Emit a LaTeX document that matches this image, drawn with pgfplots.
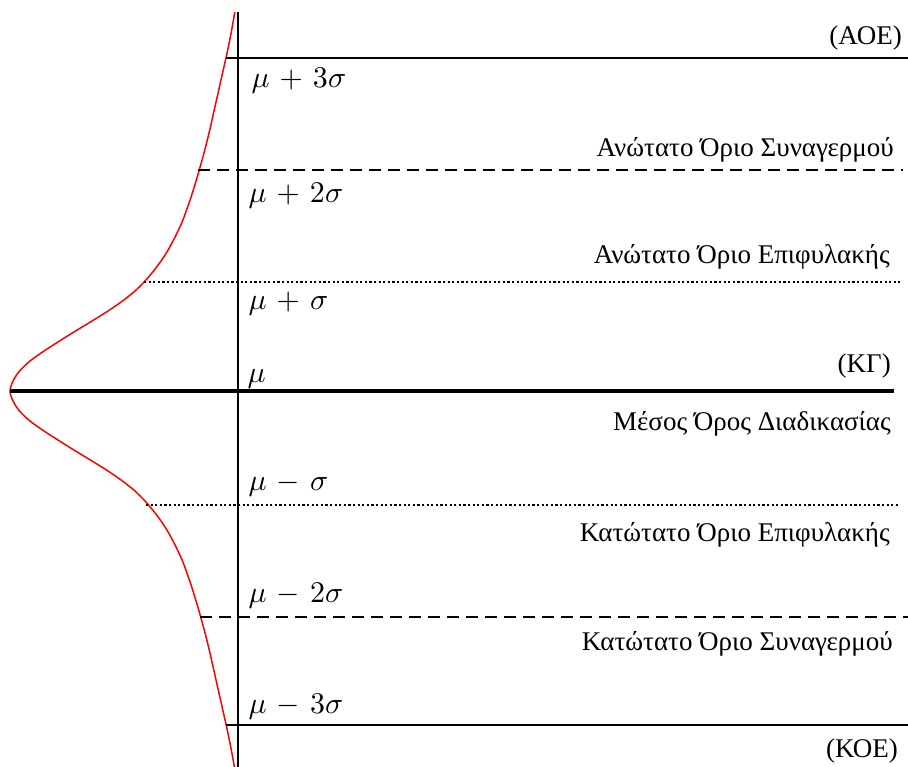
\documentclass[border=0pt]{standalone}
\usepackage{fontspec}
\setmainfont{Liberation Serif}
\usepackage{pgfplots}
\pgfplotsset{compat=1.18}
\begin{document}
\medmuskip=6mu
\begin{tikzpicture}[
  sig/.style={anchor=base west, inner sep=0pt, scale=3.0,
    font=\fontsize{10}{12}\selectfont},
  lim/.style={anchor=base east, inner sep=0pt,
    font=\fontsize{27}{32}\selectfont},
]
\begin{axis}[
  scale only axis, width=908pt, height=767pt,
  xmin=0, xmax=908, ymin=0, ymax=767, y dir=reverse,
  hide axis, clip=false,
]
% normal density turned on its side
\addplot[red, line width=1.5pt, smooth] coordinates {
 (234.8,12) (231.5,31) (227.5,51) (223,71) (218.5,91) (214,111) (209.5,131)
 (204.5,151) (199,171) (193,191) (188,206) (182.5,221) (178,231) (173,241)
 (167.5,251) (161,261) (153.5,271) (145,281) (135,291) (122.5,301) (108,311)
 (92,321) (75.5,331) (59.5,341) (44,351) (30,361) (19.5,371) (13,381) (10,391)
 (13,401) (19.5,411) (30,421) (44,431) (59.5,441) (75.5,451) (92,461) (108,471)
 (122.5,481) (135,491) (145,501) (153.5,511) (161,521) (167.5,531) (173,541)
 (178,551) (182.5,561) (188,576) (193,591) (199,611) (204.5,631) (209.5,651)
 (214,671) (218.5,691) (223,711) (227.5,731) (231.5,751) (234.4,767)
};
% vertical axis
\addplot[black, line width=2pt] coordinates {(238,12) (238,767)};
% upper control limit
\addplot[black, line width=2.3pt] coordinates {(226,58) (908,58)};
% upper warning (alarm) limit
\addplot[black, line width=2.3pt, dash pattern=on 12pt off 7pt] coordinates {(198,170) (903,170)};
% upper surveillance limit
\addplot[black, line width=2.3pt, dash pattern=on 2.2pt off 2.4pt] coordinates {(144,282) (900,282)};
% centre line
\addplot[black, line width=4.5pt] coordinates {(10,391) (894,391)};
% lower surveillance limit
\addplot[black, line width=2.3pt, dash pattern=on 2.2pt off 2.4pt] coordinates {(146,505) (900,505)};
% lower warning (alarm) limit
\addplot[black, line width=2.3pt, dash pattern=on 12pt off 7pt] coordinates {(200,617) (908,617)};
% lower control limit
\addplot[black, line width=1.7pt] coordinates {(226,725) (908,725)};

\node[lim] at (axis cs:902,45) {(ΑΟΕ)};
\node[lim] at (axis cs:894,157) {Ανώτατο Όριο Συναγερμού};
\node[lim] at (axis cs:890,264) {Ανώτατο Όριο Επιφυλακής};
\node[lim] at (axis cs:891,373) {(ΚΓ)};
\node[lim] at (axis cs:891,430) {Μέσος Όρος Διαδικασίας};
\node[lim] at (axis cs:890,541) {Κατώτατο Όριο Επιφυλακής};
\node[lim] at (axis cs:893,650) {Κατώτατο Όριο Συναγερμού};
\node[lim] at (axis cs:898,757) {(ΚΟΕ)};

\node[sig] at (axis cs:251,88) {$\mu + 3\sigma$};
\node[sig] at (axis cs:248,203) {$\mu + 2\sigma$};
\node[sig] at (axis cs:248,310) {$\mu + \sigma$};
\node[sig] at (axis cs:247,382) {$\mu$};
\node[sig] at (axis cs:248,490) {$\mu - \sigma$};
\node[sig] at (axis cs:248,602) {$\mu - 2\sigma$};
\node[sig] at (axis cs:248,713) {$\mu - 3\sigma$};
\end{axis}
\pgfresetboundingbox
\path[use as bounding box] (current axis.south west) rectangle (current axis.north east);
\end{tikzpicture}
\end{document}
